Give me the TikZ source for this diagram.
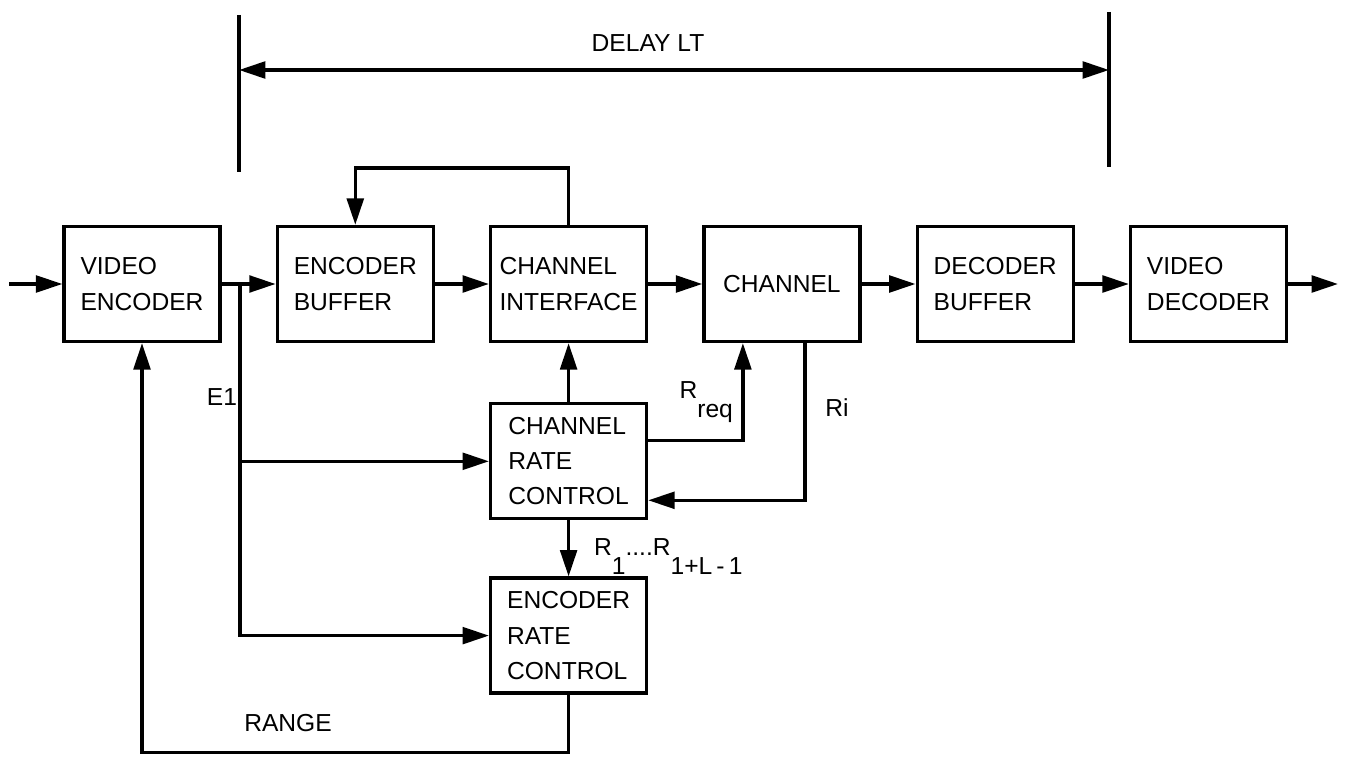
\documentclass[tikz,border=0pt]{standalone}
\usepackage{fontspec}
\setmainfont{Liberation Sans}
\usetikzlibrary{arrows.meta,positioning,calc}
\newcommand{\lowtext}[1]{\raisebox{-0.8em}{#1}}

\begin{document}
\begin{tikzpicture}[
  x=0.02cm, y=-0.02cm,
  font=\fontsize{14}{20}\selectfont,
  blockbox/.style={
    draw, line width=1.9pt, align=left, inner sep=2pt,
    minimum width=3.12cm, minimum height=2.3cm
  },
  lbl/.style={inner sep=1pt},
  wire/.style={line width=1.9pt},
  arr/.style={-{Triangle[length=15pt,width=9.5pt]}, line width=1.9pt}
]
\useasboundingbox (0,0) rectangle (1350,757);

\node[blockbox] (venc) at (142,284) {VIDEO\\ENCODER};
\node[blockbox, right=1.08cm of venc] (ebuf) {ENCODER\\BUFFER};
\node[blockbox, right=1.08cm of ebuf] (chif) {CHANNEL\\INTERFACE};
\node[blockbox, right=1.08cm of chif] (chan) {CHANNEL};
\node[blockbox, right=1.08cm of chan] (dbuf) {DECODER\\BUFFER};
\node[blockbox, right=1.08cm of dbuf] (vdec) {VIDEO\\DECODER};
\node[blockbox, below=1.18cm of chif] (chrc) {CHANNEL\\RATE\\CONTROL};
\node[blockbox, below=1.12cm of chrc] (erc) {ENCODER\\RATE\\CONTROL};

\coordinate (in) at (9,284);
\coordinate (out) at (1338,284);
\coordinate (split) at (240,284);

% main chain
\draw[arr] (in) -- (venc);
\draw[wire] (venc) -- (split);
\draw[arr] (split) -- (ebuf);
\draw[arr] (ebuf) -- (chif);
\draw[arr] (chif) -- (chan);
\draw[arr] (chan) -- (dbuf);
\draw[arr] (dbuf) -- (vdec);
\draw[arr] (vdec) -- (out);

% feedback to the buffer
\draw[arr] (chif.north) -- ++(0,-57) -| (ebuf.north);

% rate control
\draw[arr] (chrc) -- (chif);
\draw[arr] (chrc) -- (erc);
\draw[arr] ([yshift=0.42cm]chrc.east) -| ([xshift=-0.78cm]chan.south);
\draw[arr] ([xshift=0.46cm]chan.south) |- ([yshift=-0.78cm]chrc.east);
\draw[arr] (split) |- (erc.west);
\draw[arr] (split |- chrc.west) -- (chrc.west);
\draw[arr] (erc.south) -- ++(0,58) -| (venc.south);

% delay span
\coordinate (dltop) at (239,15);
\coordinate (dlbot) at (239,172);
\coordinate (drtop) at (1109,12);
\coordinate (drbot) at (1109,167);
\coordinate (dl) at (239,70);
\coordinate (dr) at (1109,70);
\draw[wire] (dltop) -- (dlbot);
\draw[wire] (drtop) -- (drbot);
\draw[{Triangle[length=15pt,width=9.5pt]}-{Triangle[length=15pt,width=9.5pt]}, line width=1.9pt] (dl) -- (dr);

% labels
\node[lbl] (delay) at (648,43) {DELAY LT};
\node[lbl] (e1) at (222,397) {E1};
\node[lbl, anchor=base east] (rreq) at (735,398) {R\lowtext{req}};
\node[lbl] (ri) at (837,408) {Ri};
\node[lbl, anchor=base west] (rseq) at (592,555) {R\lowtext{1}....R\lowtext{1+L\,-\,1}};
\node[lbl] (range) at (288,723) {RANGE};
\end{tikzpicture}
\end{document}
